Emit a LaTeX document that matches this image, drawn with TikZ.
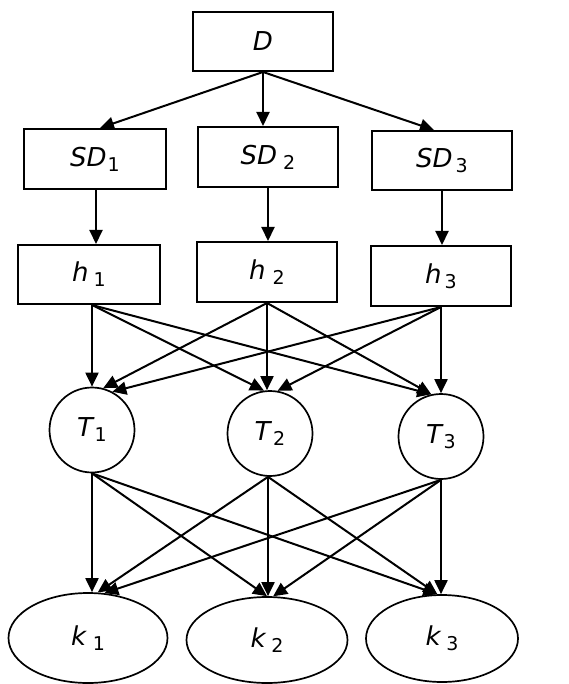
\documentclass[tikz,border=0pt]{standalone}
\usepackage{fontspec}
\setmainfont{DejaVu Sans}
\usetikzlibrary{arrows.meta,shapes.geometric,calc}
\newcommand{\lbl}[3]{\textit{#1}\hspace{#3}\raisebox{-5pt}{\fontsize{19}{19}\selectfont #2}}
\begin{document}
\begin{tikzpicture}[x=1pt,y=-1pt,
  every node/.style={font=\fontsize{26}{30}\selectfont, inner sep=0pt},
  box/.style={draw, line width=2pt, rectangle},
  circ/.style={draw, line width=1.7pt, circle, minimum size=85pt},
  ell/.style={draw, line width=1.7pt, ellipse},
  arr/.style={line width=2pt, -{Triangle[length=14pt,width=13pt]}}]
\useasboundingbox (0,0) rectangle (569,684);
% boxes
\node[box, minimum width=140pt, minimum height=59pt] (D) at (263,41.5) {\textit{D}};
\node[box, minimum width=142pt, minimum height=60pt] (SD1) at (95,159) {\lbl{SD}{1}{1pt}};
\node[box, minimum width=140pt, minimum height=60pt] (SD2) at (268,157) {\lbl{SD}{2}{6pt}};
\node[box, minimum width=140pt, minimum height=59pt] (SD3) at (442,160.5) {\lbl{SD}{3}{3pt}};
\node[box, minimum width=142pt, minimum height=59pt] (h1) at (89,274.5) {\lbl{h}{1}{5pt}};
\node[box, minimum width=140pt, minimum height=60pt] (h2) at (267,272) {\lbl{h}{2}{7pt}};
\node[box, minimum width=140pt, minimum height=60pt] (h3) at (441,276) {\lbl{h}{3}{3pt}};
% circles
\node[circ] (T1) at (92,430) {\lbl{T}{1}{0pt}};
\node[circ] (T2) at (270,433.5) {\lbl{T}{2}{1pt}};
\node[circ] (T3) at (441,436.5) {\lbl{T}{3}{0pt}};
% ellipses
\node[ell, minimum width=159pt, minimum height=90pt] (k1) at (88,638) {\lbl{k}{1}{6pt}};
\node[ell, minimum width=161pt, minimum height=86pt] (k2) at (267,640) {\lbl{k}{2}{5pt}};
\node[ell, minimum width=152pt, minimum height=87pt] (k3) at (442,638.5) {\lbl{k}{3}{5pt}};
% D -> SD
\draw[arr] (D.south) -- ($(SD1.north)+(5,0)$);
\draw[arr] (D.south) -- (D.south |- SD2.north);
\draw[arr] (D.south) -- ($(SD3.north)+(-8,0)$);
% SD -> h
\coordinate (SD1s) at ($(SD1.south)+(1,0)$);
\draw[arr] (SD1s) -- (SD1s |- h1.north);
\draw[arr] (SD2.south) -- (SD2.south |- h2.north);
\draw[arr] (SD3.south) -- (SD3.south |- h3.north);
% h -> T
\coordinate (h1s) at ($(h1.south)+(3,0)$);
\draw[arr] (h1s) -- (T1.north);
\draw[arr] (h1s) -- (T2.98);
\draw[arr] (h1s) -- (T3.103);
\draw[arr] (h2.south) -- (T1.75);
\draw[arr] (h2.south) -- (h2.south |- T2.north);
\draw[arr] (h2.south) -- (T3.103);
\draw[arr] (h3.south) -- (T1.62);
\draw[arr] (h3.south) -- (T2.80);
\draw[arr] (h3.south) -- (T3.north);
% T -> k
\coordinate (T2s) at ($(T2.south)+(-2,0)$);
\draw[arr] (T1.south) -- (T1.south |- k1.north);
\draw[arr] (T1.south) -- (k2.north);
\draw[arr] (T1.south) -- (k3.96);
\draw[arr] (T2s) -- (k1.78);
\draw[arr] (T2s) -- (T2s |- k2.north);
\draw[arr] (T2s) -- (k3.96);
\draw[arr] (T3.south) -- (k1.70);
\draw[arr] (T3.south) -- (k2.82);
\draw[arr] (T3.south) -- (T3.south |- k3.north);
\end{tikzpicture}
\end{document}
